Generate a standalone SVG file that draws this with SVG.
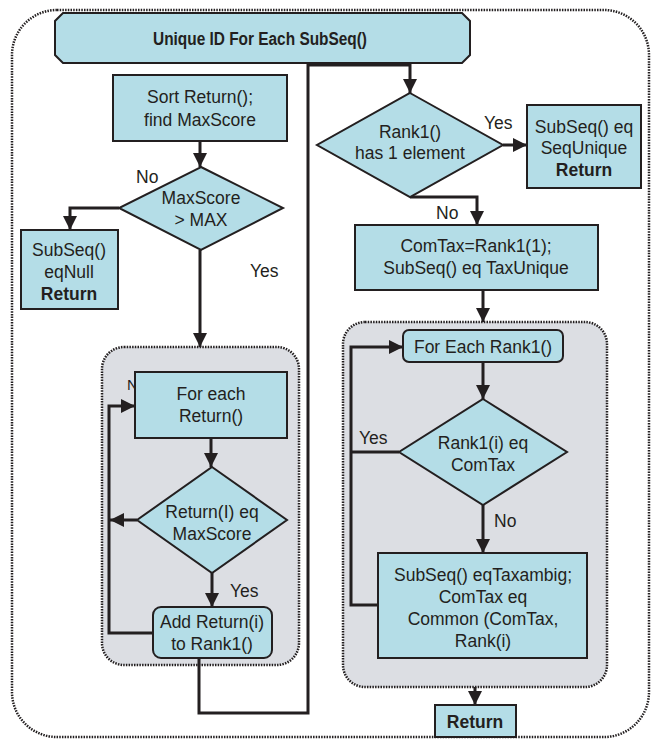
<svg xmlns="http://www.w3.org/2000/svg" width="654" height="740" viewBox="0 0 654 740">
<defs>
<marker id="ah" markerUnits="userSpaceOnUse" markerWidth="16" markerHeight="16" refX="14" refY="7" orient="auto">
<path d="M0,0 L14,7 L0,14 z" fill="#231f20"/>
</marker>
<style>
.box{fill:#b4dde7;stroke:#231f20;stroke-width:2}
.cont{fill:#dcdee3;stroke:#231f20;stroke-width:2.5;stroke-dasharray:1.5 1.2}
.c{fill:none;stroke:#231f20;stroke-width:3}
.a{marker-end:url(#ah)}
text{font-family:"Liberation Sans",Arial,sans-serif;font-size:17.5px;fill:#231f20;text-anchor:middle}
.b{font-weight:bold}
.l{text-anchor:start}
</style>
</defs>
<rect width="654" height="740" fill="#fff"/>
<rect id="outer" x="12" y="10" width="637" height="727" rx="45" fill="#fff" stroke="#231f20" stroke-width="2.5" stroke-dasharray="1.5 1.2"/>
<g id="title">
<polygon class="box" points="63,13 462,13 470,21 470,55 462,63 63,63 55,55 55,21"/>
<text class="b" x="260" y="45" style="font-size:17.5px" textLength="214" lengthAdjust="spacingAndGlyphs">Unique ID For Each SubSeq()</text>
</g>
<g id="loop1">
<rect class="cont" x="102" y="347" width="197" height="318" rx="22"/>
</g>
<g id="loop2">
<rect class="cont" x="343" y="322" width="264" height="365" rx="22"/>
</g>
<text x="127" y="390" class="l" style="font-size:15px">No</text>
<g id="connectors">
<path class="c a" d="M200,141 V167"/>
<path class="c a" d="M119,208 H70 V230"/>
<path class="c a" d="M200,250 V347"/>
<path class="c a" d="M211,438 V467"/>
<path class="c a" d="M137,520 H110"/>
<path class="c a" d="M153,633 H109 V406 H135"/>
<path class="c a" d="M212,573 V607"/>
<path class="c a" d="M199,658 V713 H308 V65 H410 V93"/>
<path class="c a" d="M503,145 H527"/>
<path class="c a" d="M410,197 H477 V225"/>
<path class="c a" d="M483,290 V322"/>
<path class="c a" d="M483,362 V399"/>
<path class="c" d="M399,452 H351"/>
<path class="c a" d="M378,605 H351 V347 H403"/>
<path class="c a" d="M483,505 V553"/>
<path class="c a" d="M475,687 V705"/>
</g>
<g id="sort">
<rect class="box" x="113" y="75" width="174" height="66"/>
<text x="200" y="103">Sort Return();</text>
<text x="200" y="126">find MaxScore</text>
</g>
<g id="maxscore">
<polygon class="box" points="201,167 283,208 201,250 119,208"/>
<text x="201" y="204">MaxScore</text>
<text x="201" y="226">&gt; MAX</text>
<text x="136" y="183" class="l">No</text>
<text x="250" y="277" class="l">Yes</text>
</g>
<g id="null">
<rect class="box" x="21" y="230" width="97" height="79"/>
<text x="69" y="256">SubSeq()</text>
<text x="69" y="278">eqNull</text>
<text x="69" y="300" class="b">Return</text>
</g>
<g id="foreach">
<rect class="box" x="135" y="372" width="152" height="66"/>
<text x="211" y="400">For each</text>
<text x="211" y="422">Return()</text>
</g>
<g id="eqmax">
<polygon class="box" points="212,467 287,520 212,573 137,520"/>
<text x="212" y="518">Return(I) eq</text>
<text x="212" y="540">MaxScore</text>
<text x="230" y="597" class="l">Yes</text>
</g>
<g id="add">
<rect class="box" x="153" y="607" width="119" height="51" rx="8"/>
<text x="212" y="628">Add Return(i)</text>
<text x="212" y="650">to Rank1()</text>
</g>
<g id="rank1">
<polygon class="box" points="410,93 503,145 410,197 317,145"/>
<text x="410" y="138">Rank1()</text>
<text x="410" y="159">has 1 element</text>
<text x="484" y="129" class="l">Yes</text>
<text x="436" y="219" class="l">No</text>
</g>
<g id="sequnique">
<rect class="box" x="527" y="105" width="114" height="83"/>
<text x="584" y="133">SubSeq() eq</text>
<text x="584" y="154">SeqUnique</text>
<text x="584" y="176" class="b">Return</text>
</g>
<g id="comtax">
<rect class="box" x="355" y="225" width="243" height="65"/>
<text x="476" y="252">ComTax=Rank1(1);</text>
<text x="476" y="274">SubSeq() eq TaxUnique</text>
</g>
<g id="foreachrank">
<rect class="box" x="403" y="330" width="160" height="32" rx="6"/>
<text x="483" y="353">For Each Rank1()</text>
</g>
<g id="eqcomtax">
<polygon class="box" points="483,399 567,452 483,505 399,452"/>
<text x="483" y="449">Rank1(i) eq</text>
<text x="483" y="471">ComTax</text>
<text x="359" y="444" class="l">Yes</text>
<text x="494" y="527" class="l">No</text>
</g>
<g id="taxambig">
<rect class="box" x="378" y="553" width="209" height="105"/>
<text x="483" y="581">SubSeq() eqTaxambig;</text>
<text x="483" y="603">ComTax eq</text>
<text x="483" y="625">Common (ComTax,</text>
<text x="483" y="647">Rank(i)</text>
</g>
<g id="return">
<rect class="box" x="435" y="705" width="81" height="32"/>
<text x="475" y="728" class="b">Return</text>
</g>
</svg>
